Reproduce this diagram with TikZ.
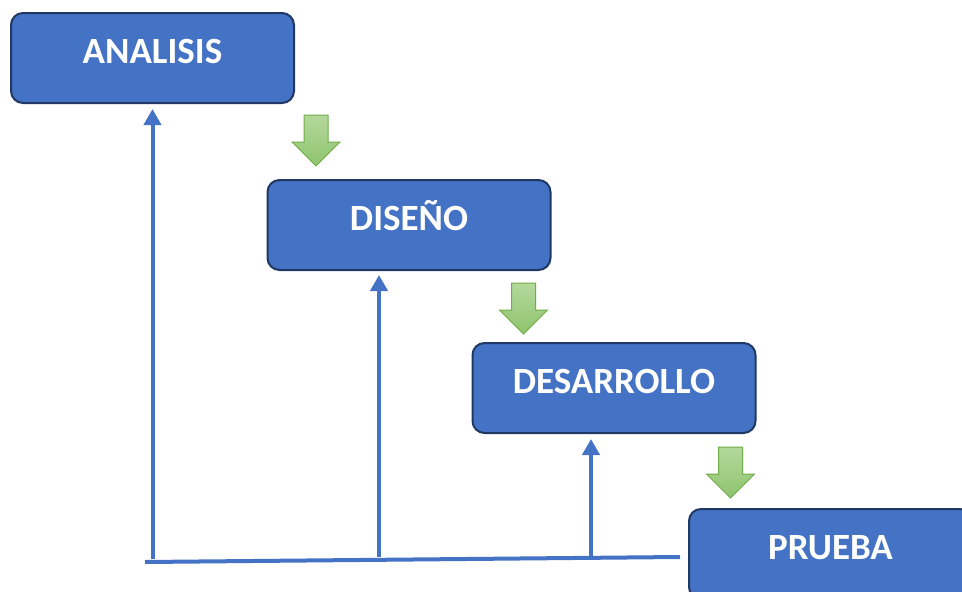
\documentclass[tikz,border=0pt]{standalone}
\usepackage{fontspec}
\setmainfont{Carlito}
\usetikzlibrary{arrows.meta}
\definecolor{boxblue}{HTML}{4472C4}
\definecolor{boxedge}{HTML}{1F3864}
\definecolor{gedge}{HTML}{70AD47}
\definecolor{gtop}{HTML}{B4D89C}
\definecolor{gbot}{HTML}{8FC46E}
\begin{document}
\begin{tikzpicture}[x=1pt,y=-1pt,
  stage/.style={draw=boxedge, line width=2pt, fill=boxblue, rounded corners=12pt,
    minimum width=283pt, minimum height=90pt, inner sep=0pt, text=white,
    font=\fontsize{37}{44}\selectfont\bfseries, text height=24pt, text depth=13pt},
  feed/.style={draw=boxblue, line width=4pt},
  up/.style={feed, -{Triangle[width=17pt,length=16pt]}},
  flow/.style={draw=gedge, line width=1pt, top color=gtop, bottom color=gbot},
  downarrow/.pic={\path[flow] (-12,0) -- (12,0) -- (12,27) -- (24,27) -- (0,51) -- (-24,27) -- (-12,27) -- cycle;}]
\useasboundingbox (0,0) rectangle (962,592);
\clip (0,0) rectangle (962,592);

\node[stage] (ana) at (152.5,58) {ANALISIS};
\node[stage] (dis) at (409,225) {DISEÑO};
\node[stage] (des) at (614,388) {DESARROLLO};
\node[stage] (pru) at (830.5,554) {PRUEBA};

\pic at (316,115) {downarrow};
\pic at (523.5,283) {downarrow};
\pic at (730.5,447) {downarrow};

\coordinate (bl) at (145,562);
\coordinate (br) at (680,557);
\draw[feed] (bl) -- (br);

\coordinate (f1) at (152.5,559);
\coordinate (f2) at (379,557);
\coordinate (f3) at (591,556);
\draw[up, shorten >=5pt] (f1) -- (f1 |- ana.south);
\draw[up, shorten >=4pt] (f2) -- (f2 |- dis.south);
\draw[up, shorten >=5pt] (f3) -- (f3 |- des.south);
\end{tikzpicture}
\end{document}
